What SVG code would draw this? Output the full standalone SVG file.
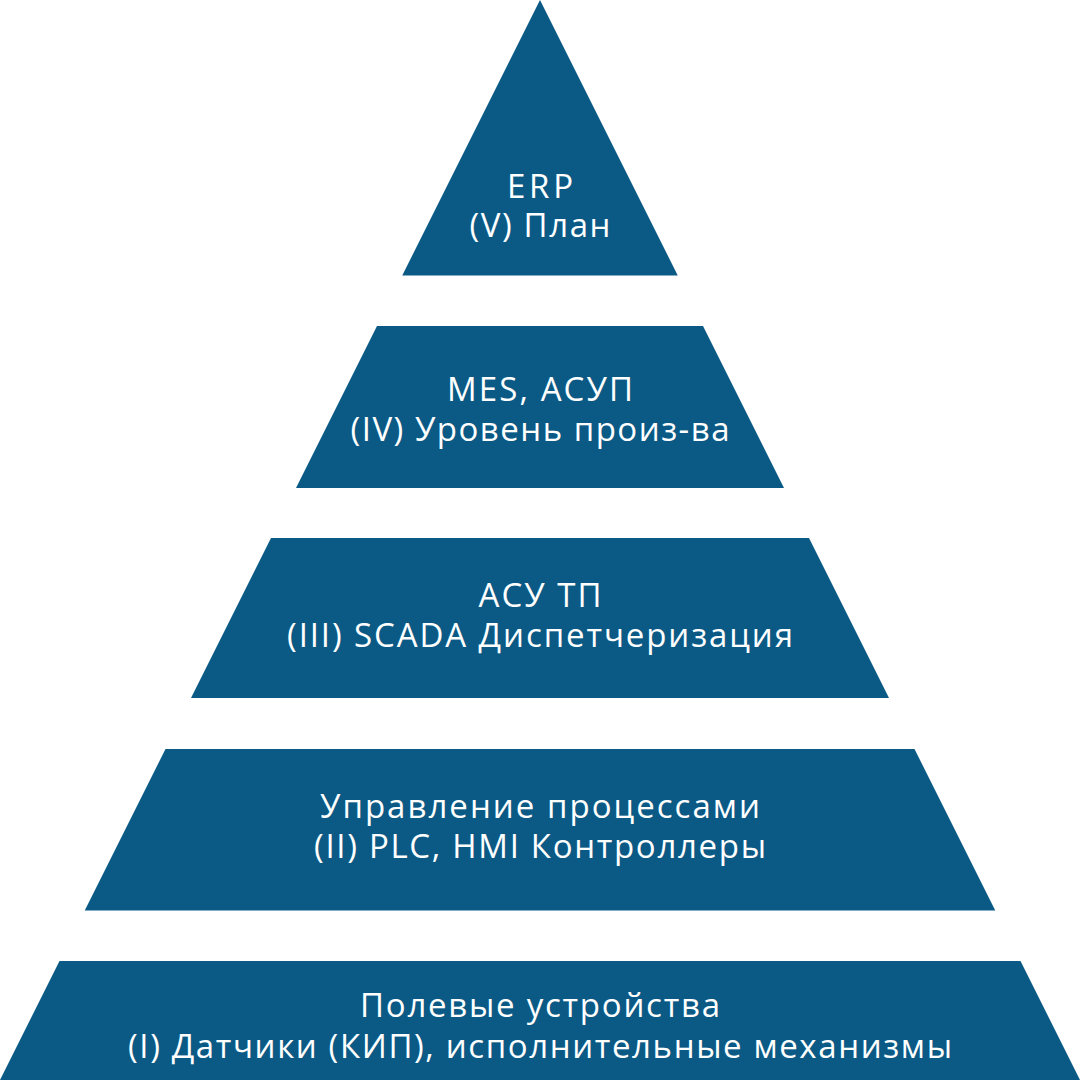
<svg xmlns="http://www.w3.org/2000/svg" width="1080" height="1080" viewBox="0 0 1080 1080">
  <style>
    .band { fill: #0B5A86; }
    .lbl { fill: #FFFFFF; font-family: "Open Sans", "Noto Sans", "DejaVu Sans", sans-serif; font-size: 33px; text-anchor: middle; }
  </style>
  <rect x="0" y="0" width="1080" height="1080" fill="#FFFFFF"/>
  <g id="level-5">
    <polygon class="band" points="540,0 677.75,275.5 402.25,275.5"/>
    <text class="lbl" x="540" y="198" textLength="66" lengthAdjust="spacing">ERP</text>
    <text class="lbl" x="540" y="237" textLength="141" lengthAdjust="spacing">(V) План</text>
  </g>
  <g id="level-4">
    <polygon class="band" points="377,326 703,326 784,488 296,488"/>
    <text class="lbl" x="540" y="401" textLength="186" lengthAdjust="spacing">MES, АСУП</text>
    <text class="lbl" x="540" y="441" textLength="379" lengthAdjust="spacing">(IV) Уровень произ-ва</text>
  </g>
  <g id="level-3">
    <polygon class="band" points="271,538 809,538 889,698 191,698"/>
    <text class="lbl" x="540" y="607" textLength="123" lengthAdjust="spacing">АСУ ТП</text>
    <text class="lbl" x="540" y="647" textLength="506" lengthAdjust="spacing">(III) SCADA Диспетчеризация</text>
  </g>
  <g id="level-2">
    <polygon class="band" points="165.5,749 914.5,749 995.25,910.5 84.75,910.5"/>
    <text class="lbl" x="540" y="818" textLength="440" lengthAdjust="spacing">Управление процессами</text>
    <text class="lbl" x="540" y="858" textLength="452" lengthAdjust="spacing">(II) PLC, HMI Контроллеры</text>
  </g>
  <g id="level-1">
    <polygon class="band" points="59.5,961 1020.5,961 1080,1080 0,1080"/>
    <text class="lbl" x="540" y="1017" textLength="360" lengthAdjust="spacing">Полевые устройства</text>
    <text class="lbl" x="540" y="1058" textLength="824" lengthAdjust="spacing">(I) Датчики (КИП), исполнительные механизмы</text>
  </g>
  <g id="connectors"/>
</svg>
